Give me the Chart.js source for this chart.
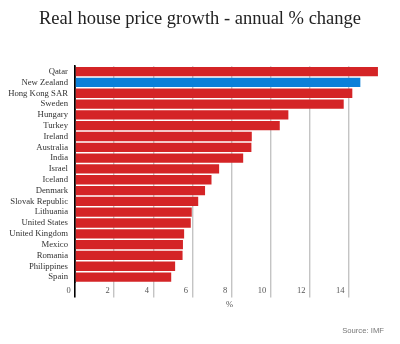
<!DOCTYPE html>
<html>
<head>
<meta charset="utf-8">
<script src="https://cdn.jsdelivr.net/npm/chart.js@4/dist/chart.umd.min.js"></script>
<style>
html,body{margin:0;padding:0;background:#fff;}
#wrap{width:400px;height:344px;position:relative;}
</style>
</head>
<body>
<div id="wrap"><canvas id="c"></canvas></div>
<script>
const countries = ["Qatar","New Zealand","Hong Kong SAR","Sweden","Hungary","Turkey","Ireland","Australia","India","Israel","Iceland","Denmark","Slovak Republic","Lithuania","United States","United Kingdom","Mexico","Romania","Philippines","Spain"];
const growth = [15.49,14.59,14.18,13.74,10.91,10.47,9.04,9.02,8.60,7.37,6.98,6.65,6.30,5.97,5.92,5.58,5.52,5.50,5.12,4.92];
const highlighted = "New Zealand";
const xTicks = [0,2,4,6,8,10,12,14];

const RED = '#d42426', BLUE = '#0b80d9';
const barColors = countries.map(c => c === highlighted ? BLUE : RED);

// centre the title over the full canvas width (layout padding is only on the right)
const centreTitle = {
  id: 'centreTitle',
  afterLayout(chart) {
    const t = chart.titleBlock;
    if (t) { t.left = 0; t.right = chart.width; t.width = chart.width; }
  }
};

new Chart(document.getElementById('c'), {
  type: 'bar',
  data: {
    labels: countries,
    datasets: [{
      data: growth,
      backgroundColor: barColors,
      borderWidth: 0,
      barPercentage: 0.86,
      categoryPercentage: 1
    }]
  },
  plugins: [centreTitle],
  options: {
    indexAxis: 'y',
    responsive: true,
    maintainAspectRatio: false,
    animation: false,
    layout: { padding: { left: 0, right: 16, top: 0, bottom: 0 } },
    plugins: {
      legend: { display: false },
      tooltip: { enabled: false },
      title: {
        display: true,
        text: 'Real house price growth - annual % change',
        color: '#222',
        font: { family: 'Liberation Serif', size: 18.5, weight: 'normal' },
        padding: { top: 8, bottom: 36 }
      },
      subtitle: {
        display: true,
        position: 'bottom',
        align: 'end',
        text: 'Source: IMF',
        color: '#777',
        font: { family: 'Liberation Sans', size: 7.7, weight: 'normal' },
        padding: { top: 12.7, bottom: 8 }
      }
    },
    scales: {
      x: {
        type: 'linear',
        min: 0,
        max: 15.8,
        afterBuildTicks: s => { s.ticks = xTicks.map(v => ({ value: v })); },
        grid: {
          color: c => (c.tick && c.tick.value === 0) ? '#000' : '#c4c4c4',
          tickColor: c => (c.tick && c.tick.value === 0) ? '#000' : '#c4c4c4',
          lineWidth: c => (c.tick && c.tick.value === 0) ? 1.6 : 1.4,
          drawTicks: true,
          tickLength: 15
        },
        border: { display: false },
        ticks: {
          autoSkip: false,
          maxRotation: 0,
          align: 'end',
          padding: -12,
          color: '#555',
          font: { family: 'Liberation Serif', size: 8.5 },
          callback: v => v + '  '
        },
        title: {
          display: true,
          text: '%',
          color: '#555',
          font: { family: 'Liberation Serif', size: 8.5 },
          padding: { top: 16.2, bottom: 4 }
        }
      },
      y: {
        afterFit: s => { s.width = 75; },
        grid: { display: false, drawTicks: false },
        border: { display: true, color: '#000', width: 1.6 },
        ticks: {
          autoSkip: false,
          padding: 7,
          color: '#333',
          font: { family: 'Liberation Serif', size: 8.7 }
        }
      }
    }
  }
});
</script>
</body>
</html>
